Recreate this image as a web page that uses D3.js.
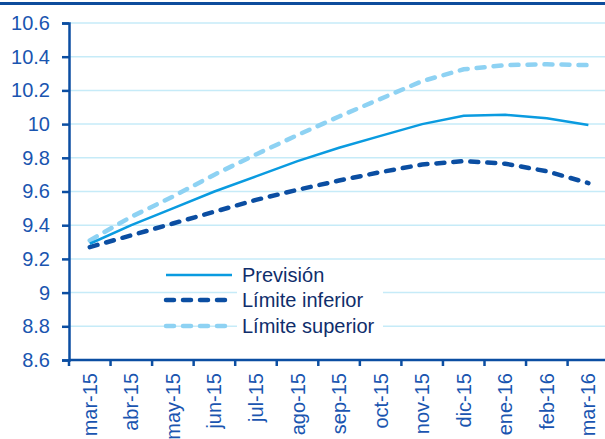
<!DOCTYPE html>
<html>
<head>
<meta charset="utf-8">
<script src="https://cdn.jsdelivr.net/npm/d3@7"></script>
<style>
  html, body { margin: 0; padding: 0; background: #fff; overflow: hidden; }
  svg { display: block; font-family: "Liberation Sans", Arial, sans-serif; }
</style>
</head>
<body>
<svg id="chart" width="605" height="439"></svg>
<script>
// Monthly categories (Spanish month abbreviations)
const months = ["mar-15","abr-15","may-15","jun-15","jul-15","ago-15","sep-15",
                "oct-15","nov-15","dic-15","ene-16","feb-16","mar-16"];

// Forecast and its confidence bounds
const prevision      = [9.29, 9.40, 9.50, 9.60, 9.69, 9.78, 9.86, 9.93, 10.00, 10.05, 10.055, 10.035, 9.995];
const limiteInferior = [9.27, 9.34, 9.41, 9.48, 9.55, 9.61, 9.665, 9.715, 9.76, 9.78, 9.765, 9.72, 9.65];
const limiteSuperior = [9.31, 9.45, 9.57, 9.70, 9.82, 9.935, 10.045, 10.15, 10.255, 10.325, 10.35, 10.355, 10.35];

const yTicks = [8.6, 8.8, 9, 9.2, 9.4, 9.6, 9.8, 10, 10.2, 10.4, 10.6];

const svg = d3.select("#chart");
const W = 605;
const plotLeft = 69, plotTop = 23, plotBottom = 360;
const band = 41.55;
const labelFont = 20;

const x = d3.scaleBand().domain(months).range([plotLeft, plotLeft + band * months.length]).paddingInner(0).paddingOuter(0);
const y = d3.scaleLinear().domain([8.6, 10.6]).range([plotBottom, plotTop]);

const axisColor = "#0b4ea2";

// Frame line along the top
svg.append("line").attr("x1", 0).attr("x2", W).attr("y1", 3.5).attr("y2", 3.5)
  .attr("stroke", "#0d4c9c").attr("stroke-width", 3);

// Horizontal gridlines
svg.append("g").selectAll("line").data(yTicks.slice(1)).join("line")
  .attr("x1", plotLeft).attr("x2", W)
  .attr("y1", d => y(d)).attr("y2", d => y(d))
  .attr("stroke", "#c6ebf8").attr("stroke-width", 1.5);

// Y axis
const yAxis = svg.append("g").attr("transform", `translate(${plotLeft},0)`)
  .call(d3.axisLeft(y).tickValues(yTicks).tickSize(7).tickPadding(12)
        .tickFormat(d => String(+d.toFixed(1))));
yAxis.select(".domain").attr("stroke", axisColor).attr("stroke-width", 2.5);
yAxis.selectAll(".tick line").attr("stroke", axisColor).attr("stroke-width", 2.5);
yAxis.selectAll(".tick text").attr("fill", "#1a55b0").attr("font-size", labelFont)
  .attr("font-family", "'Liberation Sans', Arial, sans-serif");

// X axis with rotated month labels
const xAxis = svg.append("g").attr("transform", `translate(0,${plotBottom})`)
  .call(d3.axisBottom(x).tickSize(0).tickPadding(0));
xAxis.select(".domain").remove();
xAxis.append("line").attr("x1", plotLeft).attr("x2", W).attr("y1", 0).attr("y2", 0)
  .attr("stroke", axisColor).attr("stroke-width", 2.5);
// tick marks at category boundaries
xAxis.append("g").selectAll("line").data(months).join("line")
  .attr("x1", d => x(d)).attr("x2", d => x(d)).attr("y1", 0).attr("y2", 6)
  .attr("stroke", axisColor).attr("stroke-width", 2.5);
xAxis.selectAll(".tick text")
  .attr("fill", "#1a55b0").attr("font-size", labelFont)
  .attr("font-family", "'Liberation Sans', Arial, sans-serif")
  .attr("text-anchor", "end")
  .attr("dy", "0.35em")
  .attr("transform", "translate(0,13) rotate(-90)")
  .attr("x", 0).attr("y", 0);

// Legend background
const leg = svg.append("g");
leg.append("rect").attr("x", 237).attr("y", 262).attr("width", 146).attr("height", 76).attr("fill", "#fff");

const line = d3.line().x((d, i) => x(months[i]) + x.bandwidth() / 2).y(d => y(d));

const series = [
  { name: "Límite superior", data: limiteSuperior, color: "#8ed2f3", width: 4.5, dash: "8,9" },
  { name: "Límite inferior", data: limiteInferior, color: "#0b4ea2", width: 4.5, dash: "8,9" },
  { name: "Previsión",       data: prevision,      color: "#0a9be0", width: 2.5, dash: null }
];

svg.append("g").selectAll("path").data(series).join("path")
  .attr("d", d => line(d.data))
  .attr("fill", "none")
  .attr("stroke", d => d.color)
  .attr("stroke-width", d => d.width)
  .attr("stroke-linecap", d => d.dash ? "round" : "butt")
  .attr("stroke-dasharray", d => d.dash);

// Legend entries
const legendOrder = [series[2], series[1], series[0]];
const legY = [275, 300, 326];
legendOrder.forEach((s, i) => {
  leg.append("line").attr("x1", 166).attr("x2", 232).attr("y1", legY[i]).attr("y2", legY[i])
    .attr("stroke", s.color).attr("stroke-width", s.width)
    .attr("stroke-linecap", s.dash ? "round" : "butt")
    .attr("stroke-dasharray", s.dash);
  leg.append("text").attr("x", 242).attr("y", legY[i]).attr("dy", "0.35em")
    .attr("font-size", labelFont).attr("fill", "#0f2d6b").text(s.name);
});
</script>
</body>
</html>
